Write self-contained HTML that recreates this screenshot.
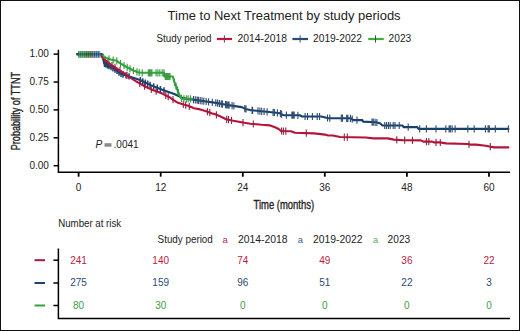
<!DOCTYPE html>
<html><head><meta charset="utf-8"><style>
html,body{margin:0;padding:0;background:#fff;}
svg{display:block;font-family:"Liberation Sans",sans-serif;}
</style></head><body>
<svg width="520" height="331" viewBox="0 0 520 331">
<rect x="0.5" y="0.5" width="519" height="330" fill="#fff" stroke="#111" stroke-width="1"/>
<text x="167.6" y="19.9" font-size="13.3" fill="#222" textLength="233" lengthAdjust="spacingAndGlyphs">Time to Next Treatment by study periods</text>
<text x="156.5" y="42.4" font-size="10" fill="#222" textLength="55" lengthAdjust="spacingAndGlyphs">Study period</text>
<path d="M216.9 39H232.0" stroke="#c4123c" stroke-width="2.2"/>
<path d="M224.4 35.3V42.6" stroke="#4a4a4a" stroke-width="1"/>
<text x="237.5" y="42.4" font-size="10" fill="#222" textLength="49.4" lengthAdjust="spacingAndGlyphs">2014-2018</text>
<path d="M292.4 39H308.0" stroke="#1e4d7e" stroke-width="2.2"/>
<path d="M300.1 35.3V42.6" stroke="#4a4a4a" stroke-width="1"/>
<text x="313.0" y="42.4" font-size="10" fill="#222" textLength="49.0" lengthAdjust="spacingAndGlyphs">2019-2022</text>
<path d="M368.2 39H383.8" stroke="#3cae40" stroke-width="2.2"/>
<path d="M375.5 35.3V42.6" stroke="#4a4a4a" stroke-width="1"/>
<text x="388.6" y="42.4" font-size="10" fill="#222" textLength="22.6" lengthAdjust="spacingAndGlyphs">2023</text>
<path d="M58.4 49.7V172.2H510" stroke="#000" stroke-width="1.5" fill="none"/>
<path d="M53.6 54.1H58" stroke="#000" stroke-width="1.5"/>
<text x="48.9" y="57.4" text-anchor="end" font-size="10" fill="#222">1.00</text>
<path d="M53.6 82.0H58" stroke="#000" stroke-width="1.5"/>
<text x="48.9" y="85.3" text-anchor="end" font-size="10" fill="#222">0.75</text>
<path d="M53.6 109.9H58" stroke="#000" stroke-width="1.5"/>
<text x="48.9" y="113.2" text-anchor="end" font-size="10" fill="#222">0.50</text>
<path d="M53.6 137.8H58" stroke="#000" stroke-width="1.5"/>
<text x="48.9" y="141.1" text-anchor="end" font-size="10" fill="#222">0.25</text>
<path d="M53.6 165.7H58" stroke="#000" stroke-width="1.5"/>
<text x="48.9" y="169.0" text-anchor="end" font-size="10" fill="#222">0.00</text>
<path d="M78.6 172.2V176.7" stroke="#000" stroke-width="1.8"/>
<text x="78.6" y="190.7" text-anchor="middle" font-size="10" fill="#222">0</text>
<path d="M160.7 172.2V176.7" stroke="#000" stroke-width="1.8"/>
<text x="160.7" y="190.7" text-anchor="middle" font-size="10" fill="#222">12</text>
<path d="M242.8 172.2V176.7" stroke="#000" stroke-width="1.8"/>
<text x="242.8" y="190.7" text-anchor="middle" font-size="10" fill="#222">24</text>
<path d="M324.8 172.2V176.7" stroke="#000" stroke-width="1.8"/>
<text x="324.8" y="190.7" text-anchor="middle" font-size="10" fill="#222">36</text>
<path d="M406.9 172.2V176.7" stroke="#000" stroke-width="1.8"/>
<text x="406.9" y="190.7" text-anchor="middle" font-size="10" fill="#222">48</text>
<path d="M489.0 172.2V176.7" stroke="#000" stroke-width="1.8"/>
<text x="489.0" y="190.7" text-anchor="middle" font-size="10" fill="#222">60</text>
<text transform="translate(20.2,111.1) rotate(-90) scale(0.712,1)" x="0" y="0" text-anchor="middle" font-size="12.8" fill="#222" stroke="#222" stroke-width="0.35">Probability of TTNT</text>
<text transform="translate(283.8,208.9) scale(0.75,1)" x="0" y="0" text-anchor="middle" font-size="12.6" fill="#222" stroke="#222" stroke-width="0.35">Time (months)</text>
<text x="95.6" y="147.9" font-size="10.2" font-style="italic" fill="#222">P</text>
<rect x="104.5" y="143.2" width="7" height="3.5" fill="#8a8a8a"/>
<text x="113.6" y="147.8" font-size="10" fill="#222">.0041</text>
<polyline fill="none" stroke="#17406e" stroke-width="2.1" stroke-linejoin="round" points="76.5,54.1 101.5,54.1 102.6,56.5 104.2,63.5 110.9,67.0 116.7,70.7 120.3,73.6 124.0,74.8 130.1,76.7 140.0,80.0 150.1,84.9 162.2,89.8 174.3,94.0 178.0,95.8 182.0,97.9 188.1,99.1 194.1,99.7 206.2,101.5 216.0,102.9 226.1,104.7 233.3,105.9 241.8,107.1 245.4,108.9 250.3,110.1 252.0,110.3 264.1,111.5 276.2,112.7 279.8,113.3 283.4,115.1 299.7,115.3 302.1,116.5 321.4,116.5 326.3,117.7 328.0,118.1 351.0,118.3 353.4,120.1 362.4,120.1 363.0,121.6 376.0,122.3 380.0,123.2 382.5,125.5 402.5,125.5 403.6,127.1 417.3,127.1 418.5,128.9 509.3,128.9"/>
<path d="M104.5 60.5v6.4M106.0 61.2v6.4M107.5 62.0v6.4M109.0 62.8v6.4M111.0 63.9v6.4M113.0 65.1v6.4M115.0 66.4v6.4M117.0 67.7v6.4M119.0 69.4v6.4M121.0 70.6v6.4M123.0 71.3v6.4M126.0 72.2v6.4M129.0 73.2v6.4M140.4 77.0v6.4M142.8 78.2v6.4M145.3 79.4v6.4M147.7 80.5v6.4M150.1 81.7v6.4M153.7 83.2v6.4M157.3 84.6v6.4M160.4 85.9v6.4M164.0 87.2v6.4" stroke="#1b4475" stroke-width="1.5" fill="none"/>
<path d="M193.5 96.0v7.2M195.3 96.3v7.2M197.1 96.5v7.2M198.4 96.7v7.2M200.2 97.0v7.2M202.0 97.3v7.2M203.8 97.5v7.2M206.2 97.9v7.2M208.6 98.2v7.2M212.3 98.8v7.2M215.8 99.3v7.2M217.6 99.6v7.2M219.4 99.9v7.2M221.3 100.2v7.2M222.5 100.5v7.2M225.5 101.0v7.2M226.7 101.2v7.2M227.9 101.4v7.2M229.1 101.6v7.2M232.1 102.1v7.2M233.9 102.4v7.2M244.8 105.0v7.2M246.0 105.4v7.2M252.1 106.7v7.2M252.6 106.8v7.2M258.0 107.3v7.2M259.9 107.5v7.2M261.7 107.7v7.2M264.1 107.9v7.2M267.1 108.2v7.2M273.1 108.8v7.2M274.4 108.9v7.2M277.4 109.3v7.2M280.4 110.0v7.2M281.6 110.6v7.2M286.4 111.5v7.2M291.9 111.6v7.2M293.0 111.6v7.2M294.2 111.6v7.2M297.9 111.7v7.2M305.1 112.9v7.2M307.5 112.9v7.2M312.4 112.9v7.2M317.2 112.9v7.2M319.6 112.9v7.2M327.5 114.4v7.2M329.8 114.5v7.2M341.3 114.6v7.2M342.5 114.6v7.2M346.7 114.7v7.2M347.9 114.7v7.2M350.4 114.7v7.2M352.2 115.6v7.2M357.0 116.5v7.2M372.0 118.5v7.2M373.3 118.6v7.2M375.1 118.7v7.2M376.9 118.9v7.2M384.7 121.9v7.2M386.5 121.9v7.2M388.4 121.9v7.2M390.2 121.9v7.2M393.2 121.9v7.2M395.0 121.9v7.2M399.2 121.9v7.2M408.2 123.5v7.2M419.7 125.3v7.2M426.4 125.3v7.2M436.0 125.3v7.2M445.8 125.3v7.2M449.1 125.3v7.2M450.3 125.3v7.2M452.1 125.3v7.2M455.1 125.3v7.2M467.8 125.3v7.2M474.2 125.3v7.2M485.4 125.3v7.2M488.1 125.3v7.2M489.3 125.3v7.2M495.3 125.3v7.2M508.4 125.3v7.2" stroke="#2c4a70" stroke-width="1.1" fill="none"/>
<polyline fill="none" stroke="#b5133a" stroke-width="2.1" stroke-linejoin="round" points="76.5,54.1 101.4,54.1 101.4,56.2 103.6,58.7 110.9,64.6 118.1,69.3 122.0,71.8 129.2,76.9 136.5,81.6 146.0,87.0 150.1,88.9 162.2,93.6 169.4,97.2 174.3,100.6 178.0,102.8 182.0,103.9 188.1,105.8 194.1,108.2 200.2,109.4 206.2,111.2 212.3,113.6 214.0,113.8 220.0,116.2 226.1,119.2 233.3,120.8 244.2,122.8 250.3,123.7 261.7,124.8 270.1,125.4 275.0,127.2 278.6,129.0 281.0,131.0 291.0,131.3 294.8,132.8 314.2,133.4 325.0,134.6 328.0,135.5 332.8,135.5 340.1,137.0 366.0,137.5 373.3,138.4 387.8,138.4 393.8,139.6 404.0,140.2 420.9,140.4 423.3,141.6 431.8,141.6 434.2,142.4 440.0,142.4 446.0,143.4 467.8,144.0 470.2,144.6 476.0,144.6 485.7,145.8 490.5,146.7 494.1,147.4 509.2,147.4"/>
<path d="M105.0 56.2v7.2M108.0 58.7v7.2M112.0 61.7v7.2M115.0 63.7v7.2M120.0 66.9v7.2M127.0 71.7v7.2M139.8 79.9v7.2M144.6 82.6v7.2M151.3 85.8v7.2M156.1 87.6v7.2M165.8 91.8v7.2M168.2 93.0v7.2M173.0 96.1v7.2M183.3 100.7v7.2M185.7 101.5v7.2M189.3 102.7v7.2M207.4 108.1v7.2M209.8 109.0v7.2M216.4 111.2v7.2M226.7 115.7v7.2M228.5 116.1v7.2M231.5 116.8v7.2M243.0 119.0v7.2M253.3 120.4v7.2M281.6 127.4v7.2M283.4 127.5v7.2M285.8 127.5v7.2M306.3 129.6v7.2M344.3 133.5v7.2M347.3 133.5v7.2M396.8 136.2v7.2M404.7 136.6v7.2M412.5 136.7v7.2M426.4 138.0v7.2M428.8 138.0v7.2M436.0 138.8v7.2M440.3 138.9v7.2M469.0 140.7v7.2M490.3 143.1v7.2" stroke="#952040" stroke-width="1.1" fill="none"/>
<polyline fill="none" stroke="#38a53d" stroke-width="2.1" stroke-linejoin="round" points="76.5,54.1 102.5,54.1 104.3,57.3 110.9,59.4 116.7,60.8 119.2,62.7 126.5,67.0 132.9,70.3 138.0,72.3 141.0,72.8 164.0,72.8 164.3,76.5 173.0,76.5 174.3,81.9 176.5,87.3 178.4,92.5 180.8,97.9 182.0,98.8 192.6,98.8"/>
<path d="M109.0 55.2v7.2M113.2 56.4v7.2M116.8 57.3v7.2M120.5 59.9v7.2M124.0 61.9v7.2M127.2 63.8v7.2M130.0 65.2v7.2M133.4 66.9v7.2M137.0 68.3v7.2M139.2 68.9v7.2M142.2 69.2v7.2M148.3 69.2v7.2M149.5 69.2v7.2M150.7 69.2v7.2M151.9 69.2v7.2M156.1 69.2v7.2M157.9 69.2v7.2M159.8 69.2v7.2M162.2 69.2v7.2M164.0 69.2v7.2M165.2 72.9v7.2M166.4 72.9v7.2M167.6 72.9v7.2M168.8 72.9v7.2M170.0 72.9v7.2M174.5 78.8v7.2M176.0 82.5v7.2M177.5 86.4v7.2M178.4 88.9v7.2M181.4 94.8v7.2M183.9 95.2v7.2M186.3 95.2v7.2M188.1 95.2v7.2M190.5 95.2v7.2" stroke="#339a3c" stroke-width="1.1" fill="none"/>
<path d="M76.5 54.1H102.4" stroke="#1f4a5a" stroke-width="2"/>
<path d="M78.8 51v6.8" stroke="#1a6a3c" stroke-width="1"/><path d="M79.8 51v6.8" stroke="#48a060" stroke-width="1"/><path d="M80.8 51v6.8" stroke="#1a6a3c" stroke-width="1"/><path d="M81.8 51v6.8" stroke="#48a060" stroke-width="1"/><path d="M82.8 51v6.8" stroke="#1a6a3c" stroke-width="1"/><path d="M83.8 51v6.8" stroke="#48a060" stroke-width="1"/><path d="M84.8 51v6.8" stroke="#1a6a3c" stroke-width="1"/><path d="M85.8 51v6.8" stroke="#3a8a4a" stroke-width="1"/><path d="M86.8 51v6.8" stroke="#4a4228" stroke-width="1"/><path d="M87.8 51v6.8" stroke="#3a8a4a" stroke-width="1"/><path d="M88.8 51v6.8" stroke="#4a4228" stroke-width="1"/><path d="M89.8 51v6.8" stroke="#3a8a4a" stroke-width="1"/><path d="M90.8 51v6.8" stroke="#4a4228" stroke-width="1"/><path d="M91.8 51v6.8" stroke="#3a8a4a" stroke-width="1"/><path d="M92.8 51v6.8" stroke="#4a4228" stroke-width="1"/><path d="M93.8 51v6.8" stroke="#5a88b4" stroke-width="1"/><path d="M94.8 51v6.8" stroke="#1a4674" stroke-width="1"/><path d="M95.8 51v6.8" stroke="#5a88b4" stroke-width="1"/><path d="M96.8 51v6.8" stroke="#1a4674" stroke-width="1"/><path d="M97.8 51v6.8" stroke="#5a88b4" stroke-width="1"/><path d="M98.8 51v6.8" stroke="#1a4674" stroke-width="1"/><path d="M99.8 51v6.8" stroke="#5a88b4" stroke-width="1"/>
<text x="58.2" y="226.5" font-size="10" fill="#222" textLength="63" lengthAdjust="spacingAndGlyphs">Number at risk</text>
<text x="157.6" y="243.1" font-size="10.1" fill="#222" textLength="55.2" lengthAdjust="spacingAndGlyphs">Study period</text>
<text x="222.6" y="242.5" font-size="9.4" fill="#a8284f">a</text>
<text x="237.9" y="243.1" font-size="10.2" fill="#222" textLength="49.6" lengthAdjust="spacingAndGlyphs">2014-2018</text>
<text x="297.8" y="242.5" font-size="9.4" fill="#3c5f92">a</text>
<text x="312.9" y="243.1" font-size="10.2" fill="#222" textLength="49.6" lengthAdjust="spacingAndGlyphs">2019-2022</text>
<text x="372.9" y="242.5" font-size="9.4" fill="#5cb25c">a</text>
<text x="387.6" y="243.1" font-size="10.2" fill="#222" textLength="22.6" lengthAdjust="spacingAndGlyphs">2023</text>
<path d="M58.4 248.6V318.6H510" stroke="#000" stroke-width="1.5" fill="none"/>
<path d="M34.5 260.2H45" stroke="#a81a3c" stroke-width="2"/>
<path d="M53.4 260.2H58" stroke="#000" stroke-width="1.5"/>
<text x="78.6" y="263.5" text-anchor="middle" font-size="10" fill="#b81d3f">241</text>
<text x="160.7" y="263.5" text-anchor="middle" font-size="10" fill="#b81d3f">140</text>
<text x="242.8" y="263.5" text-anchor="middle" font-size="10" fill="#b81d3f">74</text>
<text x="324.8" y="263.5" text-anchor="middle" font-size="10" fill="#b81d3f">49</text>
<text x="406.9" y="263.5" text-anchor="middle" font-size="10" fill="#b81d3f">36</text>
<text x="489.0" y="263.5" text-anchor="middle" font-size="10" fill="#b81d3f">22</text>
<path d="M34.5 283.0H45" stroke="#244270" stroke-width="2"/>
<path d="M53.4 283.0H58" stroke="#000" stroke-width="1.5"/>
<text x="78.6" y="286.3" text-anchor="middle" font-size="10" fill="#2b4b73">275</text>
<text x="160.7" y="286.3" text-anchor="middle" font-size="10" fill="#2b4b73">159</text>
<text x="242.8" y="286.3" text-anchor="middle" font-size="10" fill="#2b4b73">96</text>
<text x="324.8" y="286.3" text-anchor="middle" font-size="10" fill="#2b4b73">51</text>
<text x="406.9" y="286.3" text-anchor="middle" font-size="10" fill="#2b4b73">22</text>
<text x="489.0" y="286.3" text-anchor="middle" font-size="10" fill="#2b4b73">3</text>
<path d="M34.5 305.5H45" stroke="#3aa03e" stroke-width="2"/>
<path d="M53.4 305.5H58" stroke="#000" stroke-width="1.5"/>
<text x="78.6" y="308.8" text-anchor="middle" font-size="10" fill="#3f9c45">80</text>
<text x="160.7" y="308.8" text-anchor="middle" font-size="10" fill="#3f9c45">30</text>
<text x="242.8" y="308.8" text-anchor="middle" font-size="10" fill="#3f9c45">0</text>
<text x="324.8" y="308.8" text-anchor="middle" font-size="10" fill="#3f9c45">0</text>
<text x="406.9" y="308.8" text-anchor="middle" font-size="10" fill="#3f9c45">0</text>
<text x="489.0" y="308.8" text-anchor="middle" font-size="10" fill="#3f9c45">0</text>
</svg>
</body></html>
